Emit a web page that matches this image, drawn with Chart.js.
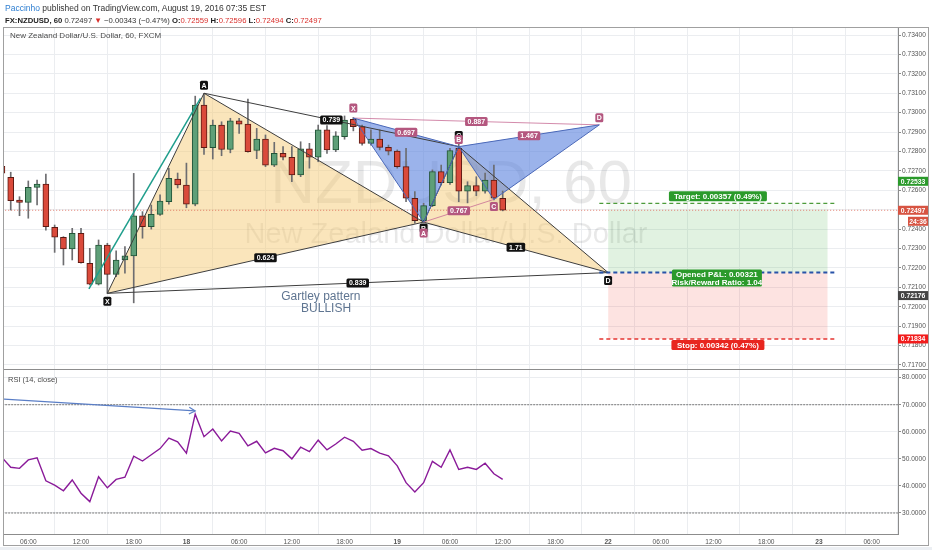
<!DOCTYPE html>
<html>
<head>
<meta charset="utf-8">
<script src="https://cdn.jsdelivr.net/npm/chart.js@4.4.0/dist/chart.umd.min.js"></script>
<style>
html, body { margin:0; padding:0; background:#fff; }
#wrap { position:relative; width:932px; height:550px; overflow:hidden; background:#fff; }
#c { position:absolute; left:0; top:0; }
.hd { position:absolute; left:5px; font-family:"Liberation Sans", Arial, sans-serif; font-size:8.5px; color:#333; white-space:nowrap; }
.hd b { color:#222; }
.au { color:#2f7fd1; }
.dn { color:#d9302c; }
.lg { position:absolute; font-family:"Liberation Sans", Arial, sans-serif; color:#4a4a4a; white-space:nowrap; }
</style>
</head>
<body>
<div id="wrap">
<canvas id="c" width="932" height="550"></canvas>
<div class="hd" style="top:3px"><span class="au">Paccinho</span> published on TradingView.com, August 19, 2016 07:35 EST</div>
<div class="hd" style="top:16px;font-size:7.7px"><b>FX:NZDUSD, 60</b> 0.72497 <span class="dn">&#9660;</span> &minus;0.00343 (&minus;0.47%) <b>O:</b><span class="dn">0.72559</span> <b>H:</b><span class="dn">0.72596</span> <b>L:</b><span class="dn">0.72494</span> <b>C:</b><span class="dn">0.72497</span></div>
<div class="lg" style="left:10px;top:31px;font-size:8px">New Zealand Dollar/U.S. Dollar, 60, FXCM</div>
<div class="lg" style="left:8px;top:375px;font-size:7.5px">RSI (14, close)</div>
</div>
<script>
// bar index: 0 = 06:00 on the 17th, one bar per hour
var firstBar = -3;
var openP  = [0.72724,0.72667,0.72550,0.72538,0.72615,0.72632,0.72409,0.72358,0.72298,0.72378,
              0.72224,0.72116,0.72318,0.72167,0.72241,0.72262,0.72469,0.72412,0.72476,0.72541,
              0.72658,0.72627,0.72528,0.73039,0.72819,0.72936,0.72810,0.72958,0.72941,0.72805,
              0.72864,0.72730,0.72790,0.72770,0.72679,0.72813,0.72770,0.72911,0.72808,0.72876,
              0.72966,0.72928,0.72842,0.72864,0.72821,0.72802,0.72722,0.72559,0.72443,0.72521,
              0.72696,0.72639,0.72816,0.72596,0.72624,0.72596,0.72653,0.72559];
var highP  = [0.72740,0.72693,0.72567,0.72648,0.72653,0.72684,0.72421,0.72361,0.72404,0.72404,
              0.72301,0.72344,0.72327,0.72288,0.72310,0.72687,0.72490,0.72524,0.72576,0.72713,
              0.72689,0.72740,0.73085,0.73100,0.72962,0.72953,0.72971,0.72971,0.73070,0.72919,
              0.72885,0.72847,0.72825,0.72825,0.72850,0.72842,0.72936,0.72933,0.72902,0.72983,
              0.72975,0.72936,0.72911,0.72911,0.72833,0.72808,0.72816,0.72593,0.72533,0.72705,
              0.72730,0.72816,0.72870,0.72644,0.72670,0.72688,0.72730,0.72596];
var lowP   = [0.72680,0.72498,0.72469,0.72456,0.72524,0.72395,0.72280,0.72215,0.72241,0.72224,
              0.72112,0.72112,0.72069,0.72155,0.72173,0.72020,0.72353,0.72400,0.72470,0.72528,
              0.72612,0.72510,0.72520,0.72785,0.72761,0.72778,0.72793,0.72893,0.72796,0.72763,
              0.72722,0.72722,0.72756,0.72644,0.72670,0.72714,0.72747,0.72790,0.72799,0.72863,
              0.72906,0.72833,0.72833,0.72808,0.72782,0.72714,0.72541,0.72430,0.72436,0.72516,
              0.72627,0.72630,0.72541,0.72535,0.72572,0.72585,0.72550,0.72494];
var closeP = [0.72688,0.72546,0.72538,0.72615,0.72632,0.72412,0.72358,0.72298,0.72378,0.72227,
              0.72116,0.72318,0.72167,0.72241,0.72262,0.72469,0.72412,0.72476,0.72545,0.72662,
              0.72627,0.72528,0.73039,0.72819,0.72936,0.72810,0.72958,0.72941,0.72799,0.72864,
              0.72730,0.72790,0.72770,0.72679,0.72813,0.72770,0.72911,0.72808,0.72881,0.72962,
              0.72928,0.72842,0.72864,0.72821,0.72802,0.72722,0.72559,0.72443,0.72521,0.72696,
              0.72639,0.72804,0.72596,0.72624,0.72596,0.72653,0.72559,0.72497];
var rsi14  = [50.5,46.9,46.5,49.6,50.4,41.9,40.3,38.2,42.2,37.3,
              34.2,43.4,39.3,42.4,43.2,51.0,49.2,51.5,53.8,57.7,
              56.3,52.1,66.5,58.2,61.0,56.6,60.3,59.4,54.8,56.5,
              52.2,53.9,53.0,50.0,54.3,52.7,56.9,53.3,55.5,58.0,
              56.5,53.2,53.8,52.1,51.1,47.4,41.2,37.8,41.2,49.1,
              46.9,53.3,46.1,46.9,46.1,48.4,44.5,42.4];
var timeLabels = ['06:00','12:00','18:00','18','06:00','12:00','18:00','19','06:00',
                  '12:00','18:00','22','06:00','12:00','18:00','23','06:00'];
var dayLabels = ['18','19','22','23'];

// Gartley (X A B C D) and the smaller blue pattern
var gartleyBar   = [9, 20, 45, 49, 66];
var gartleyPrice = [0.72069, 0.73100, 0.72436, 0.72825, 0.72176];
var gartleyRatio = ['0.624', '0.739', '1.71', '0.839'];
var batBar   = [37, 45, 49, 53, 65];
var batPrice = [0.72972, 0.72436, 0.72825, 0.72553, 0.72937];
var batRatio = ['0.697', '0.767', '1.467', '0.887'];
var trendBar = [6.9, 19.6];
var trendPrice = [0.72092, 0.73074];

// long position tool
var posBars = [66, 91];
var entryPrice = 0.72176, targetPrice = 0.72533, stopPrice = 0.71834, lastPrice = 0.72497;

var rsiLevels = [70, 30];
var arrowBar = [-3, 19];
var arrowRsi = [72.15, 67.7];

var xMin = -2.766, xMax = 99.0;
var FONT = '"Liberation Sans", Arial, sans-serif';

var bars = [];
for (var i = 0; i < openP.length; i++) bars.push(firstBar + i);

function seg(xs, ys, idx) {
  return idx.map(function (k) { return {x: xs[k], y: ys[k]}; });
}
function flat(x0, x1, v) { return [{x: x0, y: v}, {x: x1, y: v}]; }

var upFill = '#5e9f78', dnFill = '#da4a3b', upLine = '#225437', dnLine = '#5b1a13';
var isUp = openP.map(function (o, i) { return closeP[i] >= o; });

var ds = [];
function add(d) { ds.push(d); return ds.length - 1; }

// candles sit above the pattern fills, below the pattern lines
add({type: 'bar', order: 11, grouped: false, barThickness: 1,
  data: bars.map(function (b, i) { return {x: b, y: [lowP[i], highP[i]]}; }),
  backgroundColor: '#6d6d70'});
add({type: 'bar', order: 10, grouped: false, barThickness: 6, minBarLength: 1,
  borderWidth: 1, borderSkipped: false,
  data: bars.map(function (b, i) { return {x: b, y: [openP[i], closeP[i]]}; }),
  backgroundColor: isUp.map(function (u) { return u ? upFill : dnFill; }),
  borderColor: isUp.map(function (u) { return u ? upLine : dnLine; })});
add({order: 12, data: flat(-4, 100, lastPrice), borderColor: 'rgba(215,84,66,0.75)', borderWidth: 1, borderDash: [1, 2]});

// Gartley pattern
var gLine = '#3d3d3d', gFill = 'rgba(244,200,112,0.48)';
var gxb = add({order: 3, data: seg(gartleyBar, gartleyPrice, [0, 2]), borderColor: gLine});
add({order: 20, data: seg(gartleyBar, gartleyPrice, [0, 1, 2]), borderWidth: 0, fill: gxb, backgroundColor: gFill});
add({order: 3, data: seg(gartleyBar, gartleyPrice, [0, 1, 2]), borderColor: gLine});
var gbd = add({order: 3, data: seg(gartleyBar, gartleyPrice, [2, 4]), borderColor: gLine});
add({order: 20, data: seg(gartleyBar, gartleyPrice, [2, 3, 4]), borderWidth: 0, fill: gbd, backgroundColor: gFill});
add({order: 3, data: seg(gartleyBar, gartleyPrice, [2, 3, 4]), borderColor: gLine});
add({order: 3, data: seg(gartleyBar, gartleyPrice, [1, 3]), borderColor: gLine});
add({order: 3, data: seg(gartleyBar, gartleyPrice, [0, 4]), borderColor: gLine});
add({order: 3, data: seg(trendBar, trendPrice, [0, 1]), borderColor: '#1f9e8c', borderWidth: 1.5});

// blue pattern
var bLine = '#4a68b8', bFill = 'rgba(88,128,222,0.6)', pink = '#b4577f';
var bxb = add({order: 2, data: seg(batBar, batPrice, [0, 2]), borderColor: bLine});
add({order: 19, data: seg(batBar, batPrice, [0, 1, 2]), borderWidth: 0, fill: bxb, backgroundColor: bFill});
add({order: 2, data: seg(batBar, batPrice, [0, 1, 2]), borderColor: bLine});
var bbd = add({order: 2, data: seg(batBar, batPrice, [2, 4]), borderColor: bLine});
add({order: 19, data: seg(batBar, batPrice, [2, 3, 4]), borderWidth: 0, fill: bbd, backgroundColor: bFill});
add({order: 2, data: seg(batBar, batPrice, [2, 3, 4]), borderColor: bLine});
add({order: 2, data: seg(batBar, batPrice, [1, 3]), borderColor: 'rgba(200,110,150,0.8)'});
add({order: 2, data: seg(batBar, batPrice, [0, 4]), borderColor: 'rgba(200,110,150,0.8)'});

// position tool
add({order: 18, data: flat(posBars[0], posBars[1], lastPrice), borderWidth: 0,
  fill: {value: entryPrice}, backgroundColor: 'rgba(76,175,80,0.17)'});
add({order: 18, data: flat(posBars[0], posBars[1], targetPrice), borderWidth: 0,
  fill: {value: lastPrice}, backgroundColor: 'rgba(76,175,80,0.05)'});
add({order: 18, data: flat(posBars[0], posBars[1], stopPrice), borderWidth: 0,
  fill: {value: entryPrice}, backgroundColor: 'rgba(244,67,54,0.15)'});
add({order: 0, data: flat(posBars[0] - 1, posBars[1] + 1, targetPrice), borderColor: '#4c9b3a', borderWidth: 1.3, borderDash: [4, 3]});
add({order: 0, data: flat(posBars[0] - 1, posBars[1] + 1, entryPrice), borderColor: '#2853a8', borderWidth: 2, borderDash: [4, 3]});
add({order: 0, data: flat(posBars[0] - 1, posBars[1] + 1, stopPrice), borderColor: '#e53530', borderWidth: 1.5, borderDash: [4, 3]});

// RSI pane
add({order: 1, yAxisID: 'rsi', data: bars.map(function (b, i) { return {x: b, y: rsi14[i]}; }),
  borderColor: '#8a1a99', borderWidth: 1.4});
rsiLevels.forEach(function (lv) {
  add({order: 2, yAxisID: 'rsi', data: flat(-4, 100, lv), borderColor: '#7a7a7a', borderWidth: 1, borderDash: [2, 1]});
});
var arrowIdx = add({order: 1, yAxisID: 'rsi', data: seg(arrowBar, arrowRsi, [0, 1]), borderColor: '#5a7ec6', borderWidth: 1.2});

ds.forEach(function (d) {
  if (!d.type) { d.type = 'line'; d.pointRadius = 0; d.tension = 0; if (d.borderWidth === undefined) d.borderWidth = 1; if (d.fill === undefined) d.fill = false; }
});

function rrect(ctx, x, y, w, h, r) {
  ctx.beginPath();
  ctx.moveTo(x + r, y); ctx.lineTo(x + w - r, y); ctx.quadraticCurveTo(x + w, y, x + w, y + r);
  ctx.lineTo(x + w, y + h - r); ctx.quadraticCurveTo(x + w, y + h, x + w - r, y + h);
  ctx.lineTo(x + r, y + h); ctx.quadraticCurveTo(x, y + h, x, y + h - r);
  ctx.lineTo(x, y + r); ctx.quadraticCurveTo(x, y, x + r, y); ctx.closePath();
}
function tag(ctx, text, cx, cy, bg, size, w, h) {
  ctx.font = 'bold ' + (size || 7) + 'px ' + FONT;
  w = w || ctx.measureText(text).width + 5;
  h = h || 9;
  rrect(ctx, cx - w / 2, cy - h / 2, w, h, 1.5);
  ctx.fillStyle = bg; ctx.fill();
  ctx.fillStyle = '#fff'; ctx.textAlign = 'center'; ctx.textBaseline = 'middle';
  ctx.fillText(text, cx, cy + 0.5);
}

var overlay = {
  id: 'overlay',
  beforeDatasetsDraw: function (chart) {
    var ctx = chart.ctx, y = chart.scales.y, a = chart.chartArea;
    var cx = (a.left + a.right) / 2;
    ctx.save();
    ctx.fillStyle = 'rgba(0,0,0,0.09)';
    ctx.textAlign = 'center'; ctx.textBaseline = 'alphabetic';
    ctx.font = '62px ' + FONT;
    ctx.fillText('NZDUSD, 60', cx, y.top + 175);
    ctx.font = '29px ' + FONT;
    ctx.fillText('New Zealand Dollar/U.S. Dollar', cx - 5, y.top + 215);
    ctx.restore();
  },
  afterDatasetsDraw: function (chart) {
    var ctx = chart.ctx, x = chart.scales.x, y = chart.scales.y;
    function px(b) { return x.getPixelForValue(b); }
    function py(v) { return y.getPixelForValue(v); }
    ctx.save();
    // ratio labels at the middle of each leg
    var pairs = [[0, 2], [1, 3], [2, 4], [0, 4]];
    pairs.forEach(function (p, k) {
      tag(ctx, gartleyRatio[k], (px(gartleyBar[p[0]]) + px(gartleyBar[p[1]])) / 2,
        (py(gartleyPrice[p[0]]) + py(gartleyPrice[p[1]])) / 2, '#111');
    });
    var names = ['X', 'A', 'B', 'C', 'D'];
    var gOff = [8, -8, 6, -11, 8];
    names.forEach(function (n, k) {
      tag(ctx, n, px(gartleyBar[k]), py(gartleyPrice[k]) + gOff[k], '#111', 7, 8, 9);
    });
    pairs.forEach(function (p, k) {
      tag(ctx, batRatio[k], (px(batBar[p[0]]) + px(batBar[p[1]])) / 2,
        (py(batPrice[p[0]]) + py(batPrice[p[1]])) / 2, pink);
    });
    var bOff = [-10, 11, -7, 7, -7];
    names.forEach(function (n, k) {
      tag(ctx, n, px(batBar[k]), py(batPrice[k]) + bOff[k], pink, 7, 8, 9);
    });
    // pattern caption
    ctx.fillStyle = '#5f7591'; ctx.textAlign = 'center'; ctx.textBaseline = 'middle';
    ctx.font = '12px ' + FONT;
    ctx.fillText('Gartley pattern', px(33.3), py(0.72050));
    ctx.fillText('BULLISH', px(33.9), py(0.71988));
    // position tool labels
    var mid = (px(posBars[0]) + px(posBars[1])) / 2;
    tag(ctx, 'Target: 0.00357 (0.49%)', mid, py(targetPrice) - 7, '#2b9a2b', 8, 98, 10);
    ctx.font = 'bold 8px ' + FONT;
    rrect(ctx, mid - 46, py(entryPrice) - 3, 90, 17, 1.5);
    ctx.fillStyle = '#2b9a2b'; ctx.fill();
    ctx.fillStyle = '#fff'; ctx.textAlign = 'center';
    ctx.fillText('Opened P&L: 0.00321', mid - 1, py(entryPrice) + 2);
    ctx.fillText('Risk/Reward Ratio: 1.04', mid - 1, py(entryPrice) + 10);
    tag(ctx, 'Stop: 0.00342 (0.47%)', mid, py(stopPrice) + 6, '#e8261f', 8, 93, 10);
    // arrow head on the RSI trend arrow
    var pts = chart.getDatasetMeta(arrowIdx).data;
    var p0 = pts[0], p1 = pts[1];
    var ang = Math.atan2(p1.y - p0.y, p1.x - p0.x);
    ctx.strokeStyle = '#5a7ec6'; ctx.lineWidth = 1.2;
    ctx.beginPath();
    ctx.moveTo(p1.x - 7 * Math.cos(ang - 0.5), p1.y - 7 * Math.sin(ang - 0.5));
    ctx.lineTo(p1.x, p1.y);
    ctx.lineTo(p1.x - 7 * Math.cos(ang + 0.5), p1.y - 7 * Math.sin(ang + 0.5));
    ctx.stroke();
    ctx.restore();
  },
  afterDraw: function (chart) {
    var ctx = chart.ctx, y = chart.scales.y, a = chart.chartArea;
    ctx.save();
    ctx.strokeStyle = '#8c8c8c'; ctx.lineWidth = 1;
    ctx.beginPath();
    ctx.moveTo(3, Math.round(y.bottom) + 0.5); ctx.lineTo(929, Math.round(y.bottom) + 0.5);
    ctx.stroke();
    ctx.strokeStyle = '#a0a0a0';
    ctx.strokeRect(3.5, a.top - 0.5, 925, 546 - a.top);
    ctx.fillStyle = '#eceff3';
    ctx.fillRect(0, 547, 932, 3);
    // price badges on the axis
    var badges = [
      [targetPrice, '0.72533', '#2b9a2b', -22, 30],
      [lastPrice, '0.72497', '#d75442', 0, 30],
      [lastPrice, '24:36', '#d75442', 11, 20],
      [entryPrice, '0.72176', '#444', 23, 30],
      [stopPrice, '0.71834', '#f21c1c', 0, 30]
    ];
    badges.forEach(function (b) {
      var yy = y.getPixelForValue(b[0]) + b[3];
      ctx.fillStyle = b[2];
      ctx.fillRect(928 - b[4], yy - 4.5, b[4], 9);
      ctx.fillStyle = '#fff'; ctx.font = 'bold 6.8px ' + FONT;
      ctx.textAlign = 'center'; ctx.textBaseline = 'middle';
      ctx.fillText(b[1], 928 - b[4] / 2, yy + 0.5);
    });
    ctx.restore();
  }
};

var axisFont = {family: FONT, size: 6.6};
new Chart(document.getElementById('c'), {
  type: 'line',
  data: {datasets: ds},
  options: {
    responsive: false, animation: false, devicePixelRatio: 1,
    layout: {padding: {left: 4, right: 2, top: 28, bottom: 4}},
    plugins: {legend: {display: false}, tooltip: {enabled: false}},
    scales: {
      x: {type: 'linear', min: xMin, max: xMax, offset: false,
        grid: {color: '#ebedf0', drawTicks: false},
        border: {display: true, color: '#8c8c8c'},
        ticks: {stepSize: 6, includeBounds: false, autoSkip: false, maxRotation: 0, padding: 4, color: '#555',
          font: function (c) {
            var v = c.tick ? c.tick.value : 0;
            var k = Math.round(v / 6);
            return {family: FONT, size: 6.6, weight: dayLabels.indexOf(timeLabels[k]) >= 0 ? 'bold' : 'normal'};
          },
          callback: function (v) { return timeLabels[Math.round(v / 6)] || ''; }},
        afterFit: function (s) { s.height = 12; }},
      y: {type: 'linear', position: 'right', stack: 'pane', stackWeight: 341,
        min: 0.716792, max: 0.734361,
        grid: {color: '#ebedf0', tickColor: '#8c8c8c', tickLength: 3},
        border: {display: true, color: '#8c8c8c'},
        ticks: {stepSize: 0.001, includeBounds: false, autoSkip: false, padding: 1, color: '#555', font: axisFont,
          callback: function (v) { return v.toFixed(5); }},
        afterFit: function (s) { s.width = 32; }},
      rsi: {type: 'linear', position: 'right', stack: 'pane', stackWeight: 165,
        min: 22.24, max: 83.2,
        grid: {color: '#ebedf0', tickColor: '#8c8c8c', tickLength: 3},
        border: {display: true, color: '#8c8c8c'},
        ticks: {stepSize: 10, includeBounds: false, autoSkip: false, padding: 1, color: '#555', font: axisFont,
          callback: function (v) { return v.toFixed(4); }},
        afterFit: function (s) { s.width = 32; }}
    }
  },
  plugins: [overlay]
});
</script>
</body>
</html>
